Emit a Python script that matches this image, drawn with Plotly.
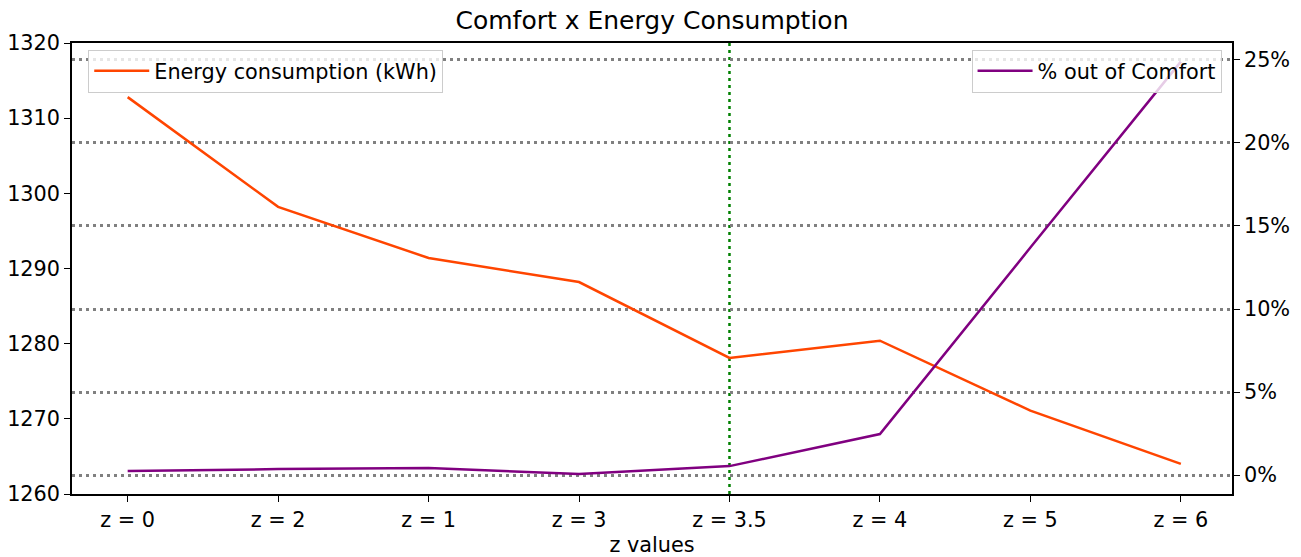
import plotly.graph_objects as go

categories = ["z = 0", "z = 2", "z = 1", "z = 3", "z = 3.5", "z = 4", "z = 5", "z = 6"]
energy_kwh = [1312.8, 1298.2, 1291.4, 1288.2, 1278.1, 1280.4, 1271.1, 1264.0]
out_of_comfort_pct = [0.24, 0.36, 0.42, 0.06, 0.54, 2.47, 13.7, 24.9]
highlight_category = "z = 3.5"
pct_ticks = [0, 5, 10, 15, 20, 25]
pct_ticktext = ["0%", "5%", "10%", "15%", "20%", "25%"]
energy_ticks = [1260, 1270, 1280, 1290, 1300, 1310, 1320]

FONT = "DejaVu Sans"

fig = go.Figure()
fig.add_trace(go.Scatter(
    x=categories, y=energy_kwh, mode="lines", name="Energy consumption (kWh)",
    line=dict(color="#FF4500", width=2.5), yaxis="y", legend="legend"))
fig.add_trace(go.Scatter(
    x=categories, y=out_of_comfort_pct, mode="lines", name="% out of Comfort",
    line=dict(color="#800080", width=2.5), yaxis="y2", legend="legend2"))

hx = categories.index(highlight_category)
fig.add_shape(type="line", xref="x", yref="paper", x0=hx, x1=hx, y0=0, y1=1,
              line=dict(color="#008000", width=2.5, dash="3px,4px"), layer="below")

fig.update_layout(
    width=1301, height=557,
    margin=dict(l=72, r=69, t=43, b=63, autoexpand=False),
    plot_bgcolor="white", paper_bgcolor="white",
    font=dict(family=FONT, size=20.8, color="black"),
    title=dict(text="Comfort x Energy Consumption", x=0.5, xref="paper", xanchor="center",
               y=0.964, yanchor="middle", font=dict(size=25)),
    showlegend=True,
    xaxis=dict(type="category", range=[-0.37, 7.34], showgrid=False, zeroline=False,
               automargin=False,
               showline=True, linecolor="black", linewidth=1.5, mirror=True,
               ticks="outside", ticklen=6, tickcolor="black",
               title=dict(text="z values", standoff=8, font=dict(size=20.8))),
    yaxis=dict(range=[1260, 1320], tickvals=energy_ticks, showgrid=False, zeroline=False,
               automargin=False,
               showline=True, linecolor="black", linewidth=1.5,
               ticks="outside", ticklen=6, tickcolor="black"),
    yaxis2=dict(overlaying="y", side="right", range=[-1.14, 26.02],
                tickvals=pct_ticks, ticktext=pct_ticktext, automargin=False,
                showgrid=True, gridcolor="#808080", gridwidth=3, griddash="3px,4px",
                zeroline=False, showline=True, linecolor="black", linewidth=1.5,
                ticks="outside", ticklen=6, tickcolor="black"),
    legend=dict(x=0.014, y=0.985, xanchor="left", yanchor="top",
                bgcolor="rgba(255,255,255,0.8)", bordercolor="#cccccc", borderwidth=1,
                itemwidth=55, font=dict(size=20.8)),
    legend2=dict(x=0.991, y=0.985, xanchor="right", yanchor="top",
                 bgcolor="rgba(255,255,255,0.8)", bordercolor="#cccccc", borderwidth=1,
                 itemwidth=55, font=dict(size=20.8)),
)

fig.write_html("out.html", config={"displayModeBar": False},
               post_script="document.body.style.margin='0';document.body.style.overflow='hidden';")
